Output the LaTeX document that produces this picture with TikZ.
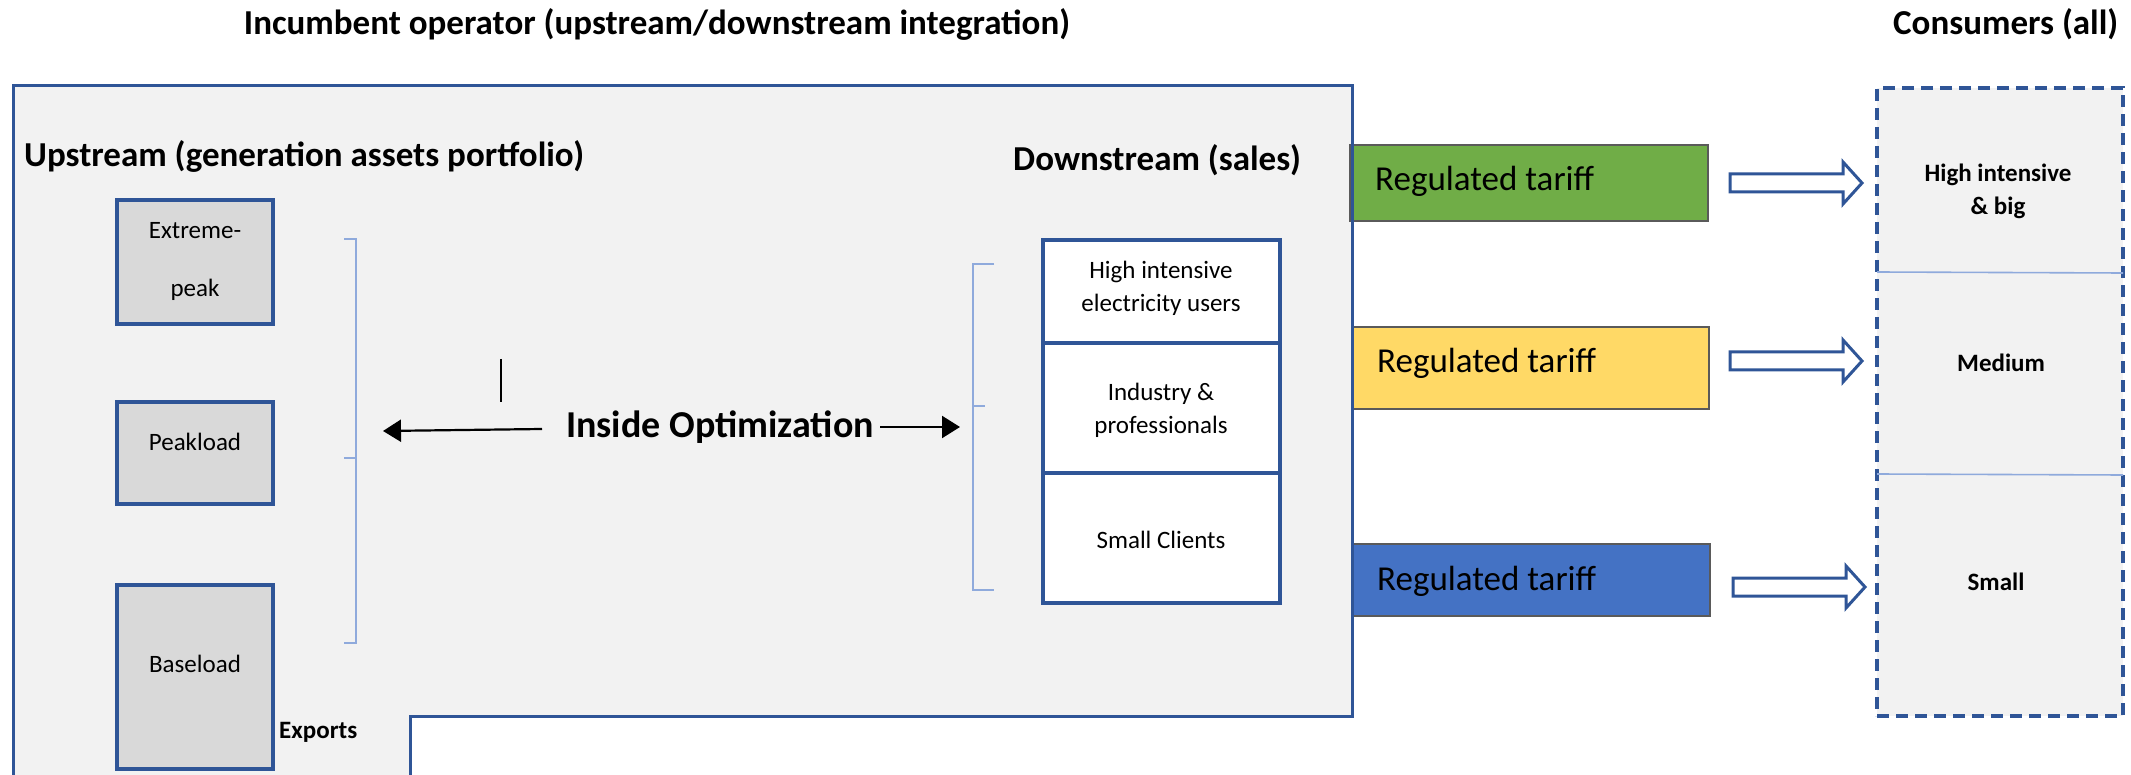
\documentclass[tikz,border=0pt]{standalone}
\usepackage{fontspec}
\setmainfont{Carlito}
\usetikzlibrary{arrows.meta}
\definecolor{bg}{HTML}{F2F2F2}
\definecolor{dblue}{HTML}{2F5597}
\definecolor{lblue}{HTML}{8FAADC}
\definecolor{gbox}{HTML}{D9D9D9}
\definecolor{tgreen}{HTML}{70AD47}
\definecolor{tyellow}{HTML}{FFD966}
\definecolor{tblue}{HTML}{4472C4}
\definecolor{tborder}{HTML}{5A5A5A}
\begin{document}
\begin{tikzpicture}[x=1pt,y=-1pt,
  heading/.style={font=\fontsize{35}{42}\selectfont\bfseries, inner sep=0, anchor=base west},
  bigbold/.style={font=\fontsize{38}{46}\selectfont\bfseries, inner sep=0, anchor=base west},
  small/.style={font=\fontsize{25}{30}\selectfont, inner sep=0, anchor=base},
  smallbold/.style={font=\fontsize{25}{30}\selectfont\bfseries, inner sep=0, anchor=base},
  tarifftext/.style={font=\fontsize{35}{42}\selectfont, inner sep=0, anchor=base west},
  genbox/.style={draw=dblue, fill=gbox, line width=3.3pt, inner sep=0},
  salesbox/.style={draw=dblue, fill=white, line width=3.3pt, inner sep=0, minimum width=237},
  tariffbox/.style={draw=tborder, line width=1.6pt, inner sep=0},
  bracketline/.style={draw=lblue, line width=1.6pt},
  arr/.style={line width=2.2pt, -{Triangle[length=18pt,width=22pt]}},
  divider/.style={draw=lblue, line width=1.6pt},
  blockarr/.pic={\draw[draw=dblue, fill=white, line width=3pt, line join=miter]
     (0,-9) -- (113,-9) -- (113,-21) -- (132,0) -- (113,21) -- (113,9) -- (0,9) -- cycle;}
]
\fill[white] (0,0) rectangle (2131,775);
\useasboundingbox (0,0) rectangle (2131,775);

% main operator area
\fill[bg] (13,775) -- (13,86) -- (1352,86) -- (1352,716) -- (410,716) -- (410,775) -- cycle;

% tariff boxes
\node[tariffbox, fill=tgreen, minimum width=358, minimum height=76] (tg) at (1529,183) {};
\node[tariffbox, fill=tyellow, minimum width=357, minimum height=82] (ty) at (1530.5,368) {};
\node[tariffbox, fill=tblue, minimum width=358, minimum height=72] (tb) at (1531,580) {};
\node[tarifftext] (tgt) at (1375,191) {Regulated tariff};
\node[tarifftext] (tyt) at (1377,373) {Regulated tariff};
\node[tarifftext] (tbt) at (1377,590) {Regulated tariff};

\draw[dblue, line width=3pt] (13,775) -- (13,86) -- (1352,86) -- (1352,716) -- (410,716) -- (410,775);

% headings
\node[heading, anchor=base] (title) at (657,35) {Incumbent operator (upstream/downstream integration)};
\node[heading] (cons-title) at (1893,35) {Consumers (all)};
\node[heading] (up) at (24,167) {Upstream (generation assets portfolio)};
\node[heading] (down) at (1013,171) {Downstream (sales)};

% generation boxes
\node[genbox, minimum width=156, minimum height=124] (ext) at (195,262) {};
\node[genbox, minimum width=156, minimum height=102] (peak) at (195,453) {};
\node[genbox, minimum width=156, minimum height=184] (base) at (195,677) {};
\node[small] (extA) at (195,239) {Extreme-};
\node[small] (extB) at (195,297) {peak};
\node[small] (peakT) at (195,450) {Peakload};
\node[small] (baseT) at (195,672) {Baseload};
\node[smallbold, anchor=base west] (exports) at (279,738) {Exports};

% brackets
\draw[bracketline] (344,239) -- (356,239) -- (356,643) -- (344,643);
\draw[bracketline] (356,458) -- (344,458);
\draw[bracketline] (994,264) -- (973,264) -- (973,590) -- (994,590);
\draw[bracketline] (973,406) -- (985,406);

% optimization
\node[bigbold] (io) at (566,437) {Inside Optimization};
\coordinate (la1) at (542,429);
\coordinate (la2) at (383,431);
\coordinate (ra1) at (880,427);
\coordinate (ra2) at (960,427);
\draw[arr] (la1) -- (la2);
\draw[arr] (ra1) -- (ra2);
\coordinate (vt) at (501,359);
\coordinate (vb) at (501,402);
\draw[line width=1.3pt] (vt) -- (vb);

% sales boxes
\node[salesbox, minimum height=103] (s1) at (1161.5,291.5) {};
\node[salesbox, minimum height=130] (s2) at (1161.5,408) {};
\node[salesbox, minimum height=130] (s3) at (1161.5,538) {};
\node[small] (s1a) at (1161,279) {High intensive};
\node[small] (s1b) at (1161,312) {electricity users};
\node[small] (s2a) at (1161,401) {Industry \&};
\node[small] (s2b) at (1161,433) {professionals};
\node[small] (s3a) at (1161,548) {Small Clients};

% block arrows
\pic at (1730,183) {blockarr};
\pic at (1730,361) {blockarr};
\pic at (1733,587) {blockarr};

% consumers
\node[draw=dblue, fill=bg, line width=3.3pt, dash pattern=on 12pt off 7pt, minimum width=246, minimum height=628, inner sep=0] (cons) at (2000,402) {};
\draw[divider] (1877,272) -- (2123,273);
\draw[divider] (1877,474) -- (2123,475);
\node[smallbold] (c1a) at (1998,182) {High intensive};
\node[smallbold] (c1b) at (1998,215) {\& big};
\node[smallbold] (c2) at (2001,372) {Medium};
\node[smallbold] (c3) at (1996,590) {Small};
\end{tikzpicture}
\end{document}
